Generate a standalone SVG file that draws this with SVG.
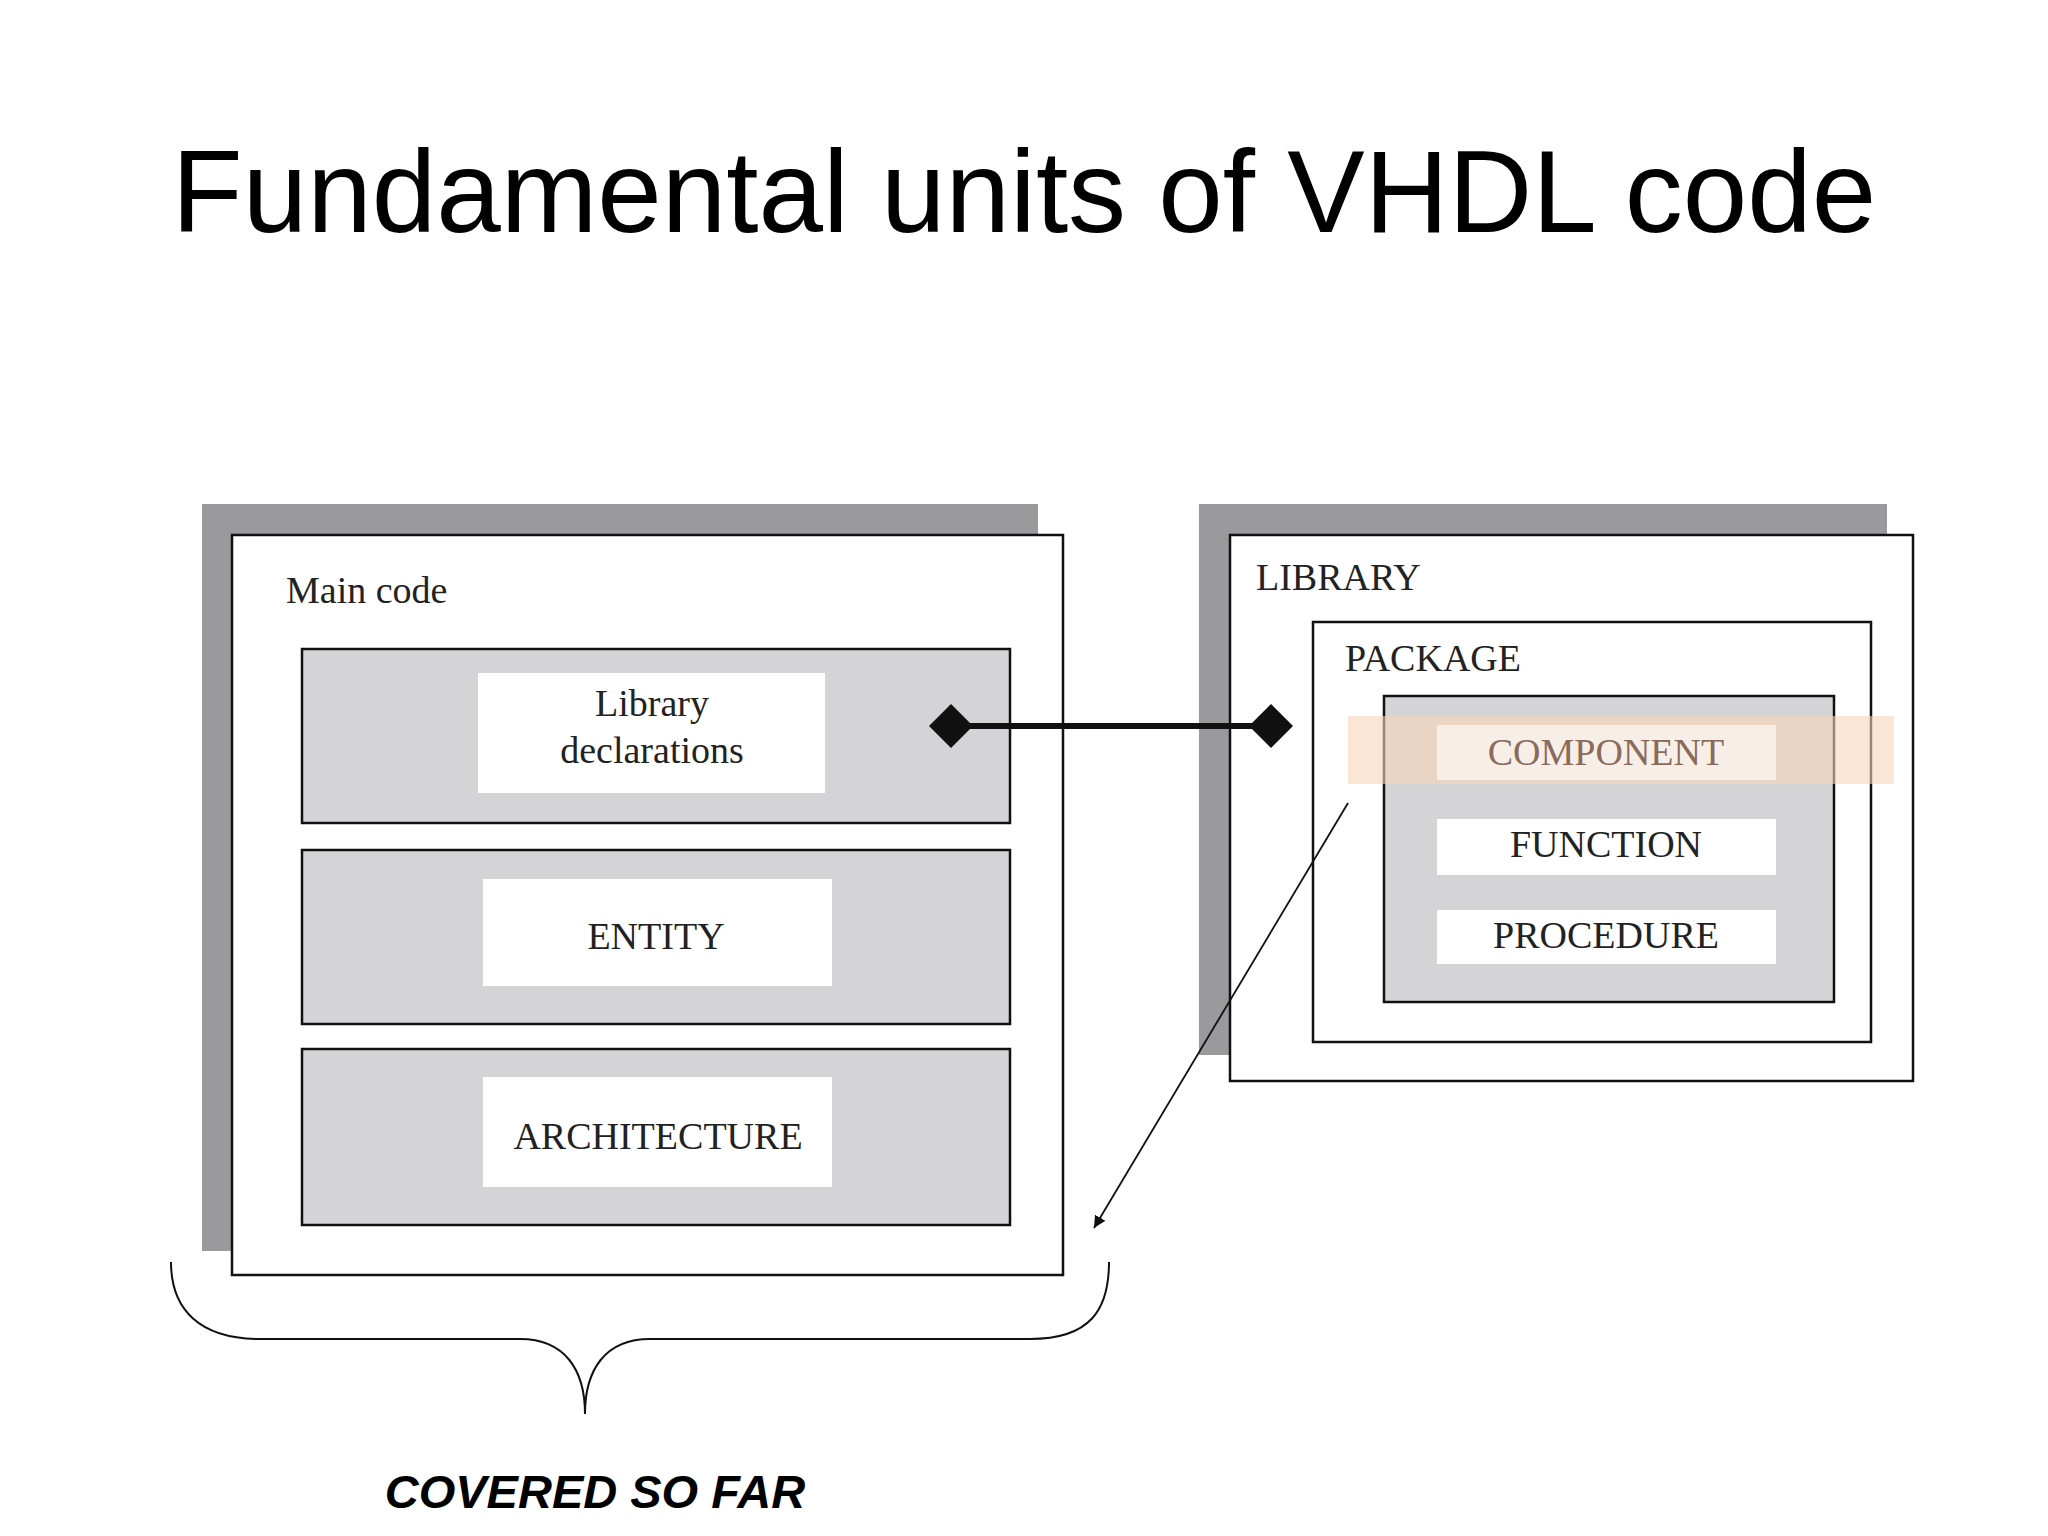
<svg xmlns="http://www.w3.org/2000/svg" width="2048" height="1536" viewBox="0 0 2048 1536">
<style>
.sh{fill:#9a9a9c}
.box{fill:#fff;stroke:#111;stroke-width:2.5}
.gray{fill:#d4d4d6;stroke:#111;stroke-width:2.5}
.wb{fill:#fff}
.t{font-family:"Liberation Serif",serif;font-size:38px;fill:#222}
.c{text-anchor:middle}
</style>
<rect width="2048" height="1536" fill="#fff"/>
<text x="1024" y="232" text-anchor="middle" font-family="Liberation Sans,Arial,sans-serif" font-size="116" fill="#000">Fundamental units of VHDL code</text>
<g id="main">
<rect class="sh" x="202" y="504" width="836" height="747"/>
<rect class="box" x="232" y="535" width="831" height="740"/>
<text class="t" x="286" y="603" font-size="40">Main code</text>
</g>
<g id="libdecl">
<rect class="gray" x="302" y="649" width="708" height="174"/>
<rect class="wb" x="478" y="673" width="347" height="120"/>
<text class="t c" x="652" y="716">Library</text>
<text class="t c" x="652" y="763" font-size="34">declarations</text>
</g>
<g id="entity">
<rect class="gray" x="302" y="850" width="708" height="174"/>
<rect class="wb" x="483" y="879" width="349" height="107"/>
<text class="t c" x="656" y="949">ENTITY</text>
</g>
<g id="arch">
<rect class="gray" x="302" y="1049" width="708" height="176"/>
<rect class="wb" x="483" y="1077" width="349" height="110"/>
<text class="t c" x="658" y="1149">ARCHITECTURE</text>
</g>
<g id="library">
<rect class="sh" x="1199" y="504" width="688" height="551"/>
<rect class="box" x="1230" y="535" width="683" height="546"/>
<text class="t" x="1256" y="590">LIBRARY</text>
</g>
<g id="package">
<rect class="box" x="1313" y="622" width="558" height="420"/>
<text class="t" x="1345" y="671">PACKAGE</text>
<rect class="gray" x="1384" y="696" width="450" height="306"/>
</g>
<g id="component">
<rect x="1348" y="716" width="546" height="68" fill="#f8d3b8" opacity="0.6"/>
<rect x="1437" y="725" width="339" height="55" fill="#fff" opacity="0.6"/>
<text class="t c" x="1606" y="765" fill="#8a6a5a" style="fill:#8a6a5a">COMPONENT</text>
</g>
<g id="function">
<rect class="wb" x="1437" y="819" width="339" height="56"/>
<text class="t c" x="1606" y="857">FUNCTION</text>
</g>
<g id="procedure">
<rect class="wb" x="1437" y="910" width="339" height="54"/>
<text class="t c" x="1606" y="948">PROCEDURE</text>
</g>
<defs>
<marker id="ah" markerWidth="12" markerHeight="12" refX="10" refY="5" orient="auto" markerUnits="userSpaceOnUse" viewBox="0 0 10 10"><path d="M0,0 L10,5 L0,10 Z" fill="#111"/></marker>
</defs>
<g id="connectors">
<line x1="951" y1="726" x2="1271" y2="726" stroke="#111" stroke-width="6"/>
<path d="M929,726 L951,704 L973,726 L951,748 Z" fill="#111"/>
<path d="M1249,726 L1271,704 L1293,726 L1271,748 Z" fill="#111"/>
<line x1="1348" y1="803" x2="1094" y2="1228" stroke="#111" stroke-width="1.8" marker-end="url(#ah)"/>
<path d="M171,1262 C171,1310 200,1339 260,1339 L520,1339 C565,1339 585,1370 585,1414 C585,1370 605,1339 650,1339 L1030,1339 C1090,1339 1109,1310 1109,1262" fill="none" stroke="#111" stroke-width="2"/>
</g>
<text x="595" y="1508" text-anchor="middle" font-family="Liberation Sans,Arial,sans-serif" font-size="47" font-weight="bold" font-style="italic" fill="#000">COVERED SO FAR</text>
</svg>
